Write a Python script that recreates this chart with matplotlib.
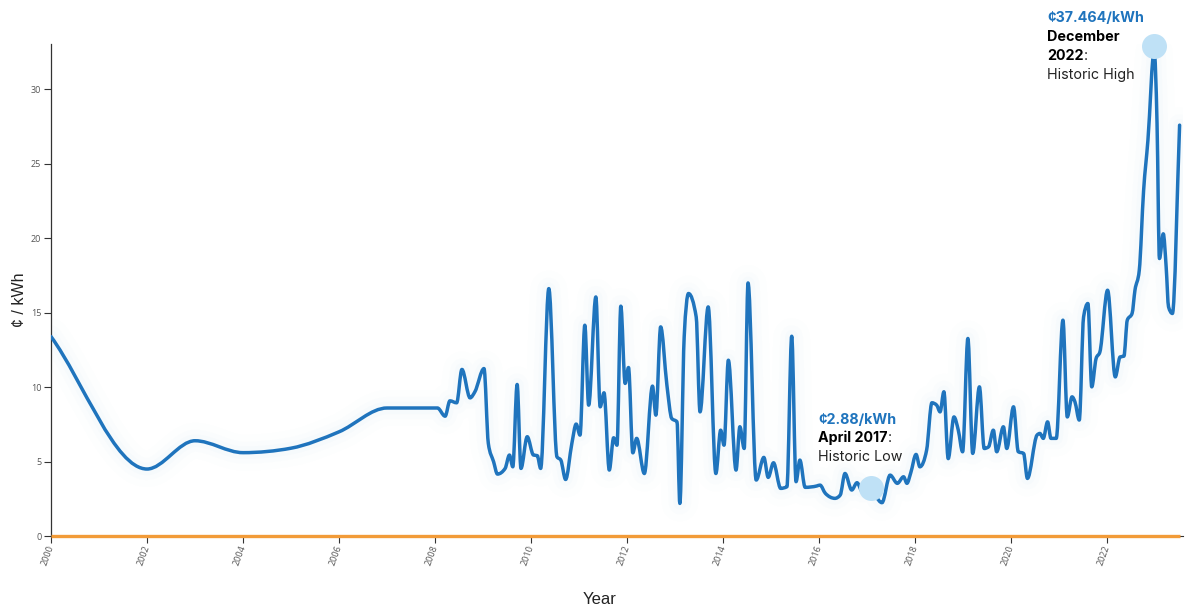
import numpy as np
import matplotlib
matplotlib.use("Agg")
import matplotlib.pyplot as plt
from matplotlib.path import Path
from matplotlib.patches import PathPatch

# Prix en ¢/kWh (années décimales)
years = [2000.0, 2002.0, 2003.0, 2004.0, 2005.0, 2006.0, 2007.0, 2008.0, 2008.05,
         2008.21, 2008.31, 2008.45, 2008.56, 2008.73, 2008.83, 2009.02, 2009.11,
         2009.22, 2009.30, 2009.46, 2009.55, 2009.62, 2009.71, 2009.79, 2009.92,
         2010.05, 2010.13, 2010.20, 2010.37, 2010.54, 2010.62, 2010.72, 2010.85,
         2010.94, 2011.02, 2011.12, 2011.20, 2011.35, 2011.44, 2011.52, 2011.63,
         2011.72, 2011.79, 2011.87, 2011.96, 2012.03, 2012.12, 2012.20, 2012.36,
         2012.53, 2012.60, 2012.70, 2012.83, 2012.93, 2013.04, 2013.10, 2013.19,
         2013.28, 2013.44, 2013.52, 2013.69, 2013.85, 2013.95, 2014.02, 2014.11,
         2014.27, 2014.35, 2014.44, 2014.52, 2014.69, 2014.85, 2014.94, 2015.05,
         2015.20, 2015.33, 2015.43, 2015.52, 2015.60, 2015.71, 2015.95, 2016.02,
         2016.13, 2016.33, 2016.44, 2016.54, 2016.68, 2016.79, 2016.90, 2017.06,
         2017.31, 2017.48, 2017.63, 2017.76, 2017.83, 2017.91, 2018.02, 2018.10,
         2018.24, 2018.35, 2018.45, 2018.52, 2018.60, 2018.69, 2018.81, 2018.90,
         2018.99, 2019.10, 2019.20, 2019.34, 2019.44, 2019.53, 2019.63, 2019.70,
         2019.84, 2019.91, 2020.05, 2020.15, 2020.26, 2020.34, 2020.54, 2020.60,
         2020.67, 2020.76, 2020.83, 2020.94, 2021.08, 2021.17, 2021.27, 2021.33,
         2021.42, 2021.51, 2021.60, 2021.68, 2021.77, 2021.85, 2022.01, 2022.17,
         2022.27, 2022.35, 2022.42, 2022.52, 2022.58, 2022.67, 2022.76, 2022.85,
         2022.98, 2023.04, 2023.09, 2023.17, 2023.23, 2023.28, 2023.36, 2023.51]
prices = [13.4, 4.5, 6.4, 5.6, 5.9, 7.0, 8.6, 8.6, 8.6,
          8.05, 9.08, 8.95, 11.19, 9.28, 9.69, 11.25, 6.22,
          4.99, 4.16, 4.54, 5.44, 4.65, 10.18, 4.54, 6.67,
          5.44, 5.4, 4.54, 16.62, 5.32, 5.1, 3.8, 6.22,
          7.52, 6.78, 14.16, 8.79, 16.06, 8.68, 9.62, 4.43,
          6.6, 6.1, 15.44, 10.25, 11.32, 5.59, 6.56, 4.2,
          10.07, 8.12, 14.05, 10.13, 7.9, 7.67, 2.19, 13.38,
          16.29, 14.72, 8.34, 15.39, 4.2, 7.11, 6.1, 11.81,
          4.43, 7.34, 5.88, 17.0, 3.76, 5.28, 3.94, 4.92,
          3.2, 3.31, 13.42, 3.65, 5.1, 3.27, 3.36, 3.42,
          2.87, 2.53, 2.75, 4.2, 3.09, 3.58, 3.0, 3.1,
          2.24, 4.09, 3.54, 3.98, 3.54, 4.25, 5.48, 4.65,
          5.77, 8.95, 8.79, 8.34, 9.69, 5.2, 8.0, 7.11,
          5.66, 13.27, 5.55, 10.02, 5.88, 5.99, 7.11, 5.66,
          7.34, 5.88, 8.68, 5.66, 5.55, 3.87, 6.78, 6.89,
          6.56, 7.67, 6.56, 6.56, 14.5, 8.0, 9.35, 9.01,
          7.79, 14.72, 15.62, 10.02, 11.92, 12.37, 16.51, 10.69,
          12.03, 12.08, 14.5, 14.95, 16.51, 17.85, 23.2, 26.58,
          32.6, 27.7, 18.64, 20.3, 18.07, 15.39, 14.95, 27.6]

# Points remarquables
high_pt = (2022.98, 32.9)
low_pt = (2017.08, 3.2)
x_ticks = list(range(2000, 2023, 2))
y_ticks = [0, 5, 10, 15, 20, 25, 30]

blue = "#1f74bd"
orange = "#f29b38"


# Courbe monotone (comme d3.curveMonotoneX) en segments de Bézier
def monotone_path(x, y):
    x = np.asarray(x, float)
    y = np.asarray(y, float)
    h = np.diff(x)
    s = np.diff(y) / h
    t = np.zeros(len(x))
    t[0] = s[0]
    t[-1] = s[-1]
    for i in range(1, len(x) - 1):
        s0, s1 = s[i - 1], s[i]
        if s0 * s1 <= 0:
            t[i] = 0
        else:
            p = (s0 * h[i] + s1 * h[i - 1]) / (h[i - 1] + h[i])
            t[i] = np.sign(s0) * min(abs(s0), abs(s1), 0.5 * abs(p)) * 2
    verts = [(x[0], y[0])]
    codes = [Path.MOVETO]
    for i in range(len(x) - 1):
        d = h[i] / 3
        verts += [(x[i] + d, y[i] + t[i] * d), (x[i + 1] - d, y[i + 1] - t[i + 1] * d), (x[i + 1], y[i + 1])]
        codes += [Path.CURVE4] * 3
    return Path(verts, codes)


fig = plt.figure(figsize=(12, 6.14), dpi=100)
ax = fig.add_axes([0.0425, 0.127, 0.9433, 0.8013])

path = monotone_path(years, prices)
# halo léger autour de la courbe
for lw, a in [(26, 0.015), (16, 0.02), (9, 0.03)]:
    ax.add_patch(PathPatch(path, fill=False, edgecolor="#8fc0ea", lw=lw, alpha=a,
                           capstyle="round", joinstyle="round"))
ax.add_patch(PathPatch(path, fill=False, edgecolor=blue, lw=2.5,
                       capstyle="round", joinstyle="round", zorder=3))

ax.plot([years[0], years[-1]], [0, 0], color=orange, lw=2.4, solid_capstyle="butt",
        clip_on=False, zorder=4)

ax.plot(*high_pt, "o", ms=18, color="#bfe1f6", mec="none", zorder=5, clip_on=False)
ax.plot(*low_pt, "o", ms=18, color="#bfe1f6", mec="none", zorder=5, clip_on=False)

ax.set_xlim(2000, 2023.58)
ax.set_ylim(0, 33.05)
ax.set_xticks(x_ticks)
ax.set_yticks(y_ticks)
ax.set_xticklabels([str(v) for v in x_ticks], rotation=70, ha="right", va="center",
                   rotation_mode="anchor", fontsize=6.5, color="#555555", family="Open Sans")
ax.set_yticklabels([str(v) for v in y_ticks], fontsize=6.5, color="#555555", family="Open Sans")
ax.tick_params(axis="both", length=5, width=0.8, color="#333333", pad=2)
for side in ["top", "right"]:
    ax.spines[side].set_visible(False)
ax.spines["left"].set_color("#333333")
ax.spines["bottom"].set_color("#333333")
ax.spines["left"].set_linewidth(0.9)

ax.set_ylabel("¢ / kWh", fontsize=11.5, color="#222222", family="Liberation Sans")
ax.yaxis.set_label_coords(-0.021, 0.48)
ax.set_xlabel("Year", fontsize=12, color="#222222", family="Liberation Sans")
ax.xaxis.set_label_coords(0.485, -0.113)

# Annotations
fnt = "Inter"
fs = 10.3
fig.text(0.8725, 0.9707, "¢37.464/kWh", color=blue, fontsize=fs, weight="bold", family=fnt, va="center")
fig.text(0.8725, 0.9397, "December", color="black", fontsize=fs, weight="bold", family=fnt, va="center")
t22 = fig.text(0.8725, 0.9088, "2022", color="black", fontsize=fs, weight="bold", family=fnt, va="center")
fig.text(0.8725, 0.878, "Historic High", color="#222222", fontsize=fs, family=fnt, va="center")

fig.text(0.6817, 0.316, "¢2.88/kWh", color=blue, fontsize=fs, weight="bold", family=fnt, va="center")
t17 = fig.text(0.6817, 0.2866, "April 2017", color="black", fontsize=fs, weight="bold", family=fnt, va="center")
fig.text(0.6817, 0.2557, "Historic Low", color="#222222", fontsize=fs, family=fnt, va="center")

fig.canvas.draw()
rend = fig.canvas.get_renderer()
for t in [t22, t17]:
    bb = t.get_window_extent(rend).transformed(fig.transFigure.inverted())
    fig.text(bb.x1, t.get_position()[1], ":", color="#222222", fontsize=fs, family=fnt, va="center")

fig.savefig("out.png", dpi=100, facecolor="white")
